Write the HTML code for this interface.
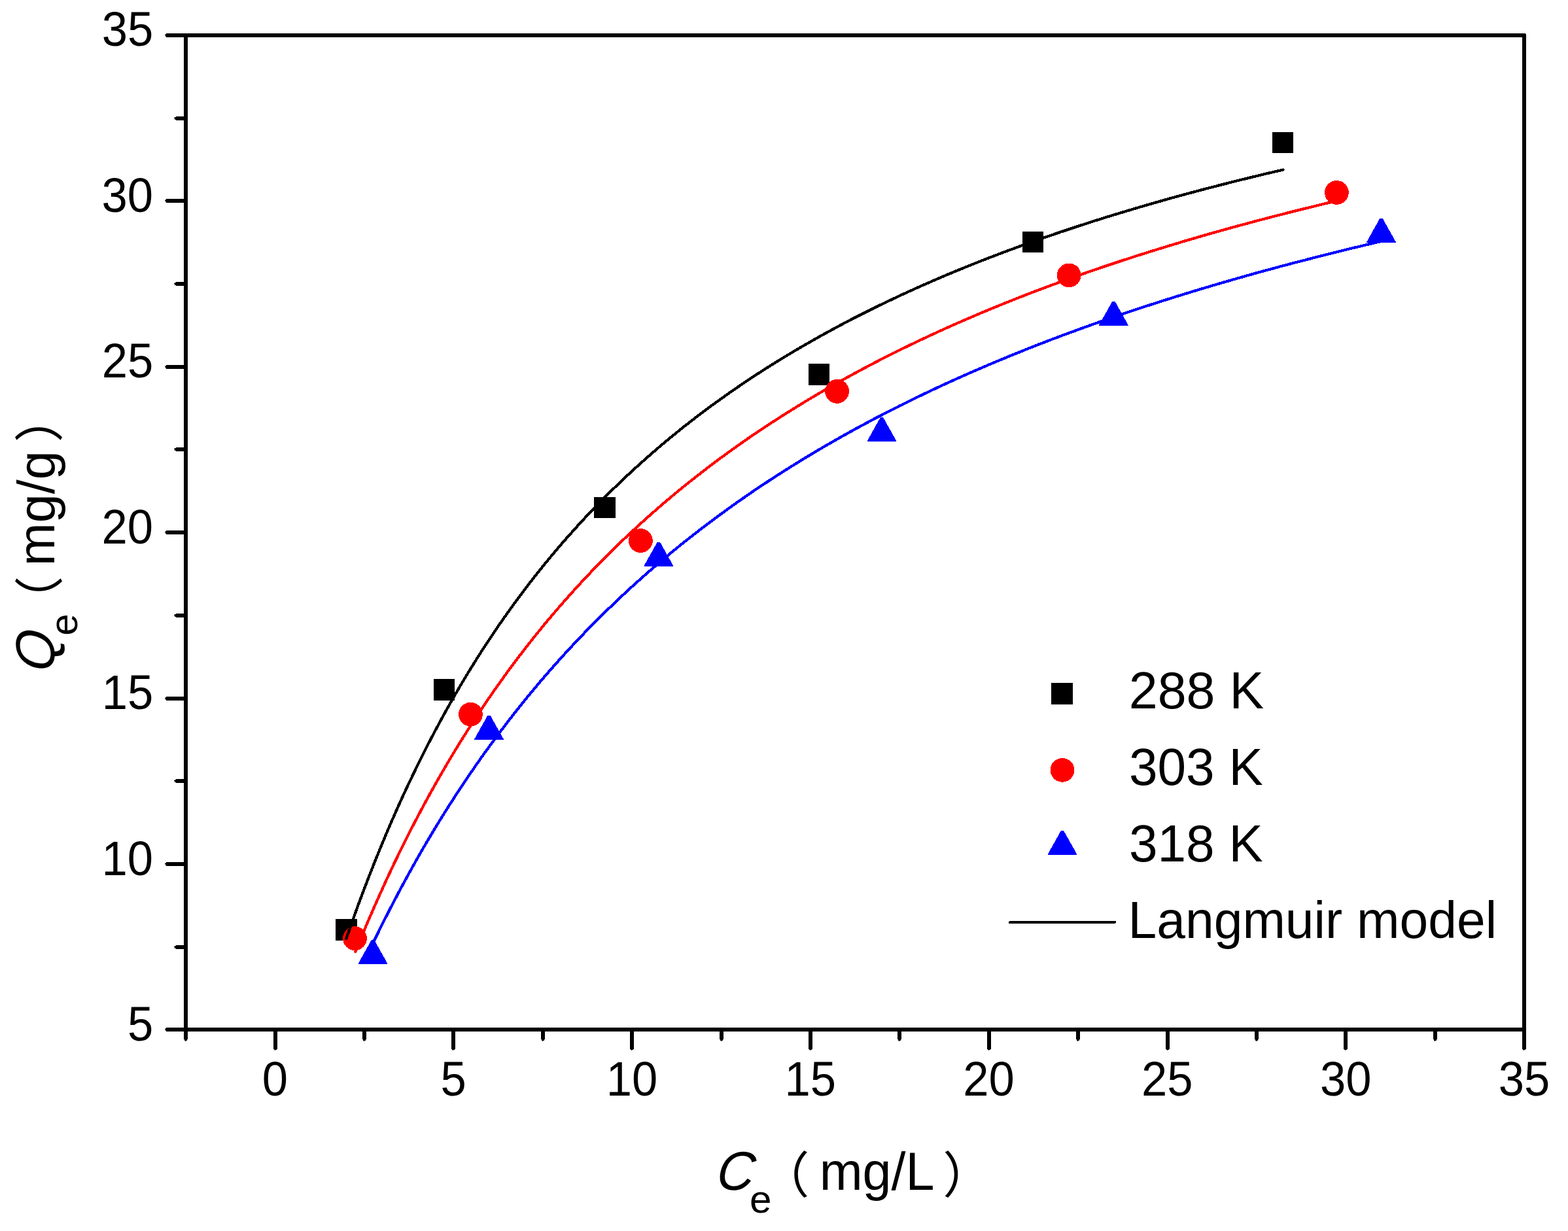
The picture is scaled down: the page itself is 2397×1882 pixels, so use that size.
<!DOCTYPE html>
<html lang="en"><head><meta charset="utf-8"><title>Langmuir isotherm</title>
<style>html,body{margin:0;padding:0;background:#fff;overflow:hidden}svg{display:block}text{font-family:"Liberation Sans","Noto Sans CJK SC",sans-serif;fill:#000}</style></head><body>
<svg width="2397" height="1882" viewBox="0 0 2397 1882">
<rect width="2397" height="1882" fill="#fff"/>
<g fill="#000" shape-rendering="crispEdges">
<rect x="281" y="51" width="6" height="1526"/>
<rect x="281" y="51" width="2051" height="6"/>
<rect x="281" y="1571" width="2052" height="6"/>
<rect x="2327" y="52" width="6" height="1525"/>
<rect x="254" y="1571" width="30" height="6"/><rect x="253" y="1572" width="1" height="4"/><rect x="252" y="1573" width="1" height="1"/>
<rect x="269" y="1445" width="15" height="6"/><rect x="267" y="1446" width="2" height="4"/><rect x="266" y="1447" width="1" height="1"/>
<rect x="254" y="1318" width="30" height="6"/><rect x="253" y="1319" width="1" height="4"/><rect x="252" y="1320" width="1" height="1"/>
<rect x="269" y="1191" width="15" height="6"/><rect x="267" y="1192" width="2" height="4"/><rect x="266" y="1193" width="1" height="1"/>
<rect x="254" y="1065" width="30" height="6"/><rect x="253" y="1066" width="1" height="4"/><rect x="252" y="1067" width="1" height="1"/>
<rect x="269" y="938" width="15" height="6"/><rect x="267" y="939" width="2" height="4"/><rect x="266" y="940" width="1" height="1"/>
<rect x="254" y="811" width="30" height="6"/><rect x="253" y="812" width="1" height="4"/><rect x="252" y="813" width="1" height="1"/>
<rect x="269" y="684" width="15" height="6"/><rect x="267" y="685" width="2" height="4"/><rect x="266" y="686" width="1" height="1"/>
<rect x="254" y="558" width="30" height="6"/><rect x="253" y="559" width="1" height="4"/><rect x="252" y="560" width="1" height="1"/>
<rect x="269" y="431" width="15" height="6"/><rect x="267" y="432" width="2" height="4"/><rect x="266" y="433" width="1" height="1"/>
<rect x="254" y="304" width="30" height="6"/><rect x="253" y="305" width="1" height="4"/><rect x="252" y="306" width="1" height="1"/>
<rect x="269" y="178" width="15" height="6"/><rect x="267" y="179" width="2" height="4"/><rect x="266" y="180" width="1" height="1"/>
<rect x="254" y="51" width="30" height="6"/><rect x="253" y="52" width="1" height="4"/><rect x="252" y="53" width="1" height="1"/>
<rect x="281" y="1574" width="6" height="15"/><rect x="282" y="1589" width="4" height="2"/><rect x="283" y="1591" width="1" height="1"/>
<rect x="418" y="1574" width="6" height="30"/><rect x="419" y="1604" width="4" height="1"/><rect x="420" y="1605" width="1" height="1"/>
<rect x="554" y="1574" width="6" height="15"/><rect x="555" y="1589" width="4" height="2"/><rect x="556" y="1591" width="1" height="1"/>
<rect x="690" y="1574" width="6" height="30"/><rect x="691" y="1604" width="4" height="1"/><rect x="692" y="1605" width="1" height="1"/>
<rect x="827" y="1574" width="6" height="15"/><rect x="828" y="1589" width="4" height="2"/><rect x="829" y="1591" width="1" height="1"/>
<rect x="963" y="1574" width="6" height="30"/><rect x="964" y="1604" width="4" height="1"/><rect x="965" y="1605" width="1" height="1"/>
<rect x="1100" y="1574" width="6" height="15"/><rect x="1101" y="1589" width="4" height="2"/><rect x="1102" y="1591" width="1" height="1"/>
<rect x="1236" y="1574" width="6" height="30"/><rect x="1237" y="1604" width="4" height="1"/><rect x="1238" y="1605" width="1" height="1"/>
<rect x="1372" y="1574" width="6" height="15"/><rect x="1373" y="1589" width="4" height="2"/><rect x="1374" y="1591" width="1" height="1"/>
<rect x="1509" y="1574" width="6" height="30"/><rect x="1510" y="1604" width="4" height="1"/><rect x="1511" y="1605" width="1" height="1"/>
<rect x="1645" y="1574" width="6" height="15"/><rect x="1646" y="1589" width="4" height="2"/><rect x="1647" y="1591" width="1" height="1"/>
<rect x="1782" y="1574" width="6" height="30"/><rect x="1783" y="1604" width="4" height="1"/><rect x="1784" y="1605" width="1" height="1"/>
<rect x="1918" y="1574" width="6" height="15"/><rect x="1919" y="1589" width="4" height="2"/><rect x="1920" y="1591" width="1" height="1"/>
<rect x="2054" y="1574" width="6" height="30"/><rect x="2055" y="1604" width="4" height="1"/><rect x="2056" y="1605" width="1" height="1"/>
<rect x="2191" y="1574" width="6" height="15"/><rect x="2192" y="1589" width="4" height="2"/><rect x="2193" y="1591" width="1" height="1"/>
<rect x="2327" y="1574" width="6" height="30"/><rect x="2328" y="1604" width="4" height="1"/><rect x="2329" y="1605" width="1" height="1"/>
</g>
<g>
<text transform="translate(194.90 1591.21) scale(0.9632 1)" font-size="73.30">5</text>
<text transform="translate(155.43 1337.71) scale(0.9632 1)" font-size="73.30">10</text>
<text transform="translate(155.64 1084.21) scale(0.9632 1)" font-size="73.30">15</text>
<text transform="translate(155.43 830.71) scale(0.9632 1)" font-size="73.30">20</text>
<text transform="translate(155.64 577.20) scale(0.9632 1)" font-size="73.30">25</text>
<text transform="translate(155.43 323.70) scale(0.9632 1)" font-size="73.30">30</text>
<text transform="translate(155.64 70.20) scale(0.9632 1)" font-size="73.30">35</text>
<text transform="translate(400.72 1675.00) scale(0.9632 1)" font-size="73.30">0</text>
<text transform="translate(673.52 1675.00) scale(0.9632 1)" font-size="73.30">5</text>
<text transform="translate(926.69 1675.00) scale(0.9632 1)" font-size="73.30">10</text>
<text transform="translate(1199.49 1675.00) scale(0.9632 1)" font-size="73.30">15</text>
<text transform="translate(1472.29 1675.00) scale(0.9632 1)" font-size="73.30">20</text>
<text transform="translate(1745.09 1675.00) scale(0.9632 1)" font-size="73.30">25</text>
<text transform="translate(2017.89 1675.00) scale(0.9632 1)" font-size="73.30">30</text>
<text transform="translate(2290.69 1675.00) scale(0.9632 1)" font-size="73.30">35</text>
</g>
<g shape-rendering="crispEdges">
<rect x="513" y="1405" width="33" height="33" fill="#000"/>
<rect x="663" y="1038" width="32" height="33" fill="#000"/>
<rect x="908" y="760" width="33" height="32" fill="#000"/>
<rect x="1236" y="556" width="32" height="33" fill="#000"/>
<rect x="1563" y="354" width="32" height="32" fill="#000"/>
<rect x="1945" y="202" width="32" height="32" fill="#000"/>
<circle cx="542.5" cy="1434.6" r="18.4" fill="#f00"/>
<circle cx="719.4" cy="1092.1" r="18.4" fill="#f00"/>
<circle cx="979.4" cy="826.6" r="18.4" fill="#f00"/>
<circle cx="1279.6" cy="598.4" r="18.4" fill="#f00"/>
<circle cx="1634.2" cy="420.9" r="18.4" fill="#f00"/>
<circle cx="2043.4" cy="294.4" r="18.4" fill="#f00"/>
<path d="M568.0 1436.8H572.0L592.3 1473.0V1474.0H547.7V1473.0Z" fill="#00f"/>
<path d="M745.5 1093.7H749.5L769.8 1129.9V1130.9H725.2V1129.9Z" fill="#00f"/>
<path d="M1004.9 828.6H1008.9L1029.2 864.8V865.8H984.6V864.8Z" fill="#00f"/>
<path d="M1346.0 637.9H1350.0L1370.3 674.1V675.1H1325.7V674.1Z" fill="#00f"/>
<path d="M1700.4 460.7H1704.4L1724.7 496.9V497.9H1680.1V496.9Z" fill="#00f"/>
<path d="M2109.5 333.7H2113.5L2133.8 369.9V370.9H2089.2V369.9Z" fill="#00f"/>
<path d="M529.3 1435.1L538.3 1409.4L547.3 1384.4L556.3 1360.3L565.3 1336.8L574.3 1314.1L583.3 1292.0L592.3 1270.5L601.3 1249.7L610.3 1229.4L619.3 1209.7L628.4 1190.5L637.4 1171.9L646.4 1153.7L655.4 1136.0L664.4 1118.8L673.4 1102.0L682.4 1085.6L691.4 1069.6L700.4 1054.0L709.4 1038.8L718.4 1024.0L727.4 1009.5L736.4 995.3L745.5 981.5L754.5 968.0L763.5 954.7L772.5 941.8L781.5 929.2L790.5 916.8L799.5 904.7L808.5 892.9L817.5 881.3L826.5 870.0L835.5 858.9L844.5 848.0L853.5 837.4L862.5 826.9L871.6 816.7L880.6 806.6L889.6 796.8L898.6 787.1L907.6 777.7L916.6 768.4L925.6 759.3L934.6 750.3L943.6 741.5L952.6 732.9L961.6 724.5L970.6 716.2L979.6 708.0L988.7 700.0L997.7 692.1L1006.7 684.3L1015.7 676.7L1024.7 669.2L1033.7 661.9L1042.7 654.6L1051.7 647.5L1060.7 640.5L1069.7 633.6L1078.7 626.9L1087.7 620.2L1096.7 613.7L1105.8 607.2L1114.8 600.8L1123.8 594.6L1132.8 588.4L1141.8 582.4L1150.8 576.4L1159.8 570.5L1168.8 564.7L1177.8 559.0L1186.8 553.4L1195.8 547.8L1204.8 542.4L1213.8 537.0L1222.9 531.7L1231.9 526.5L1240.9 521.3L1249.9 516.2L1258.9 511.2L1267.9 506.3L1276.9 501.4L1285.9 496.6L1294.9 491.8L1303.9 487.1L1312.9 482.5L1321.9 478.0L1330.9 473.5L1339.9 469.0L1349.0 464.7L1358.0 460.3L1367.0 456.1L1376.0 451.8L1385.0 447.7L1394.0 443.6L1403.0 439.5L1412.0 435.5L1421.0 431.6L1430.0 427.6L1439.0 423.8L1448.0 420.0L1457.0 416.2L1466.1 412.5L1475.1 408.8L1484.1 405.2L1493.1 401.6L1502.1 398.0L1511.1 394.5L1520.1 391.1L1529.1 387.6L1538.1 384.2L1547.1 380.9L1556.1 377.6L1565.1 374.3L1574.1 371.1L1583.2 367.9L1592.2 364.7L1601.2 361.6L1610.2 358.5L1619.2 355.4L1628.2 352.4L1637.2 349.4L1646.2 346.4L1655.2 343.5L1664.2 340.6L1673.2 337.7L1682.2 334.9L1691.2 332.0L1700.3 329.3L1709.3 326.5L1718.3 323.8L1727.3 321.1L1736.3 318.4L1745.3 315.8L1754.3 313.1L1763.3 310.6L1772.3 308.0L1781.3 305.4L1790.3 302.9L1799.3 300.4L1808.3 298.0L1817.3 295.5L1826.4 293.1L1835.4 290.7L1844.4 288.3L1853.4 286.0L1862.4 283.7L1871.4 281.4L1880.4 279.1L1889.4 276.8L1898.4 274.6L1907.4 272.4L1916.4 270.2L1925.4 268.0L1934.4 265.8L1943.5 263.7L1952.5 261.6L1961.5 259.5" fill="none" stroke="#000" stroke-width="4.2" stroke-linejoin="round" stroke-linecap="round"/>
<path d="M543.3 1455.0L552.7 1431.9L562.2 1409.5L571.6 1387.7L581.1 1366.5L590.5 1345.8L599.9 1325.6L609.4 1306.0L618.8 1286.9L628.2 1268.2L637.7 1250.0L647.1 1232.3L656.5 1215.0L666.0 1198.1L675.4 1181.6L684.9 1165.4L694.3 1149.7L703.7 1134.3L713.2 1119.2L722.6 1104.5L732.0 1090.1L741.5 1076.0L750.9 1062.3L760.3 1048.8L769.8 1035.6L779.2 1022.6L788.7 1010.0L798.1 997.6L807.5 985.4L817.0 973.5L826.4 961.8L835.8 950.4L845.3 939.2L854.7 928.2L864.2 917.4L873.6 906.8L883.0 896.4L892.5 886.2L901.9 876.2L911.3 866.3L920.8 856.7L930.2 847.2L939.6 837.9L949.1 828.7L958.5 819.7L968.0 810.9L977.4 802.2L986.8 793.7L996.3 785.3L1005.7 777.0L1015.1 768.9L1024.6 760.9L1034.0 753.0L1043.4 745.3L1052.9 737.7L1062.3 730.2L1071.8 722.9L1081.2 715.6L1090.6 708.5L1100.1 701.4L1109.5 694.5L1118.9 687.7L1128.4 681.0L1137.8 674.3L1147.2 667.8L1156.7 661.4L1166.1 655.1L1175.6 648.8L1185.0 642.7L1194.4 636.6L1203.9 630.7L1213.3 624.8L1222.7 619.0L1232.2 613.2L1241.6 607.6L1251.0 602.0L1260.5 596.5L1269.9 591.1L1279.4 585.8L1288.8 580.5L1298.2 575.3L1307.7 570.1L1317.1 565.1L1326.5 560.1L1336.0 555.1L1345.4 550.2L1354.8 545.4L1364.3 540.7L1373.7 536.0L1383.2 531.3L1392.6 526.8L1402.0 522.2L1411.5 517.8L1420.9 513.4L1430.3 509.0L1439.8 504.7L1449.2 500.4L1458.6 496.2L1468.1 492.1L1477.5 488.0L1487.0 483.9L1496.4 479.9L1505.8 476.0L1515.3 472.0L1524.7 468.2L1534.1 464.3L1543.6 460.6L1553.0 456.8L1562.4 453.1L1571.9 449.4L1581.3 445.8L1590.8 442.2L1600.2 438.7L1609.6 435.2L1619.1 431.7L1628.5 428.3L1637.9 424.9L1647.4 421.6L1656.8 418.2L1666.3 415.0L1675.7 411.7L1685.1 408.5L1694.6 405.3L1704.0 402.2L1713.4 399.0L1722.9 396.0L1732.3 392.9L1741.7 389.9L1751.2 386.9L1760.6 383.9L1770.1 381.0L1779.5 378.1L1788.9 375.2L1798.4 372.4L1807.8 369.5L1817.2 366.7L1826.7 364.0L1836.1 361.2L1845.5 358.5L1855.0 355.8L1864.4 353.2L1873.9 350.5L1883.3 347.9L1892.7 345.3L1902.2 342.8L1911.6 340.2L1921.0 337.7L1930.5 335.2L1939.9 332.8L1949.3 330.3L1958.8 327.9L1968.2 325.5L1977.7 323.1L1987.1 320.7L1996.5 318.4L2006.0 316.1L2015.4 313.8L2024.8 311.5L2034.3 309.2L2043.7 307.0" fill="none" stroke="#f00" stroke-width="4.2" stroke-linejoin="round" stroke-linecap="round"/>
<path d="M570.6 1441.1L580.3 1421.2L590.0 1401.8L599.7 1382.9L609.4 1364.4L619.1 1346.4L628.8 1328.8L638.4 1311.5L648.1 1294.7L657.8 1278.3L667.5 1262.2L677.2 1246.4L686.9 1231.0L696.6 1216.0L706.3 1201.2L716.0 1186.8L725.7 1172.7L735.4 1158.8L745.1 1145.3L754.8 1132.0L764.5 1119.0L774.2 1106.2L783.9 1093.7L793.5 1081.4L803.2 1069.4L812.9 1057.6L822.6 1046.0L832.3 1034.6L842.0 1023.5L851.7 1012.5L861.4 1001.8L871.1 991.2L880.8 980.8L890.5 970.6L900.2 960.6L909.9 950.8L919.6 941.1L929.3 931.6L939.0 922.3L948.6 913.1L958.3 904.1L968.0 895.2L977.7 886.5L987.4 877.9L997.1 869.4L1006.8 861.1L1016.5 852.9L1026.2 844.8L1035.9 836.9L1045.6 829.1L1055.3 821.4L1065.0 813.8L1074.7 806.4L1084.4 799.0L1094.1 791.8L1103.8 784.7L1113.4 777.6L1123.1 770.7L1132.8 763.9L1142.5 757.2L1152.2 750.5L1161.9 744.0L1171.6 737.6L1181.3 731.2L1191.0 725.0L1200.7 718.8L1210.4 712.7L1220.1 706.7L1229.8 700.7L1239.5 694.9L1249.2 689.1L1258.9 683.4L1268.5 677.8L1278.2 672.3L1287.9 666.8L1297.6 661.4L1307.3 656.0L1317.0 650.8L1326.7 645.6L1336.4 640.4L1346.1 635.4L1355.8 630.4L1365.5 625.4L1375.2 620.5L1384.9 615.7L1394.6 610.9L1404.3 606.2L1414.0 601.6L1423.6 597.0L1433.3 592.4L1443.0 587.9L1452.7 583.5L1462.4 579.1L1472.1 574.8L1481.8 570.5L1491.5 566.3L1501.2 562.1L1510.9 557.9L1520.6 553.8L1530.3 549.8L1540.0 545.8L1549.7 541.8L1559.4 537.9L1569.1 534.0L1578.7 530.2L1588.4 526.4L1598.1 522.7L1607.8 518.9L1617.5 515.3L1627.2 511.6L1636.9 508.1L1646.6 504.5L1656.3 501.0L1666.0 497.5L1675.7 494.1L1685.4 490.6L1695.1 487.3L1704.8 483.9L1714.5 480.6L1724.2 477.3L1733.9 474.1L1743.5 470.9L1753.2 467.7L1762.9 464.6L1772.6 461.4L1782.3 458.4L1792.0 455.3L1801.7 452.3L1811.4 449.3L1821.1 446.3L1830.8 443.4L1840.5 440.5L1850.2 437.6L1859.9 434.7L1869.6 431.9L1879.3 429.1L1889.0 426.3L1898.6 423.6L1908.3 420.8L1918.0 418.1L1927.7 415.4L1937.4 412.8L1947.1 410.2L1956.8 407.5L1966.5 405.0L1976.2 402.4L1985.9 399.9L1995.6 397.4L2005.3 394.9L2015.0 392.4L2024.7 389.9L2034.4 387.5L2044.1 385.1L2053.7 382.7L2063.4 380.3L2073.1 378.0L2082.8 375.7L2092.5 373.4L2102.2 371.1L2111.9 368.8" fill="none" stroke="#00f" stroke-width="4.2" stroke-linejoin="round" stroke-linecap="round"/>
<rect x="1607" y="1044" width="33" height="33" fill="#000"/>
<circle cx="1624" cy="1177.3" r="18.4" fill="#f00"/>
<path d="M1622.0 1269.8H1626.0L1646.3 1306.0V1307.0H1601.7V1306.0Z" fill="#00f"/>
<path d="M1544 1410H1704" stroke="#000" stroke-width="4" stroke-linecap="round" fill="none"/>
</g>
<g>
<text transform="translate(1725.73 1083.10) scale(0.9814 1)" font-size="80.50">288 K</text>
<text transform="translate(1726.02 1200.00) scale(0.9727 1)" font-size="80.50">303 K</text>
<text transform="translate(1726.02 1316.90) scale(0.9727 1)" font-size="80.50">318 K</text>
<text transform="translate(1724.55 1433.80) scale(0.9825 1)" font-size="80.00">Langmuir model</text>
</g>
<g>
<text transform="translate(1093.82 1819.00) scale(0.9498 1) skewX(-7)" font-size="83.60" font-style="italic">C</text>
<text transform="translate(1145.94 1854.30) scale(1.0325 1)" font-size="58.40">e</text>
<text x="1161.76" y="1823.70" font-size="75.60">（</text>
<text transform="translate(1252.64 1819.00) scale(0.9773 1)" font-size="81.00">mg/L</text>
<text x="1441.32" y="1823.70" font-size="75.60">）</text>
</g>
<g transform="translate(82.5 1021.5) rotate(-90)">
<text transform="translate(-6.67 0.00) scale(0.9572 1) skewX(-7)" font-size="84.20" font-style="italic">Q</text>
<text transform="translate(49.84 35.10) scale(1.0325 1)" font-size="58.40">e</text>
<text x="65.16" y="5.00" font-size="75.60">（</text>
<text transform="translate(156.34 0.00) scale(0.9895 1)" font-size="80.00">mg/g</text>
<text x="345.32" y="5.00" font-size="75.60">）</text>
</g>
</svg></body></html>
